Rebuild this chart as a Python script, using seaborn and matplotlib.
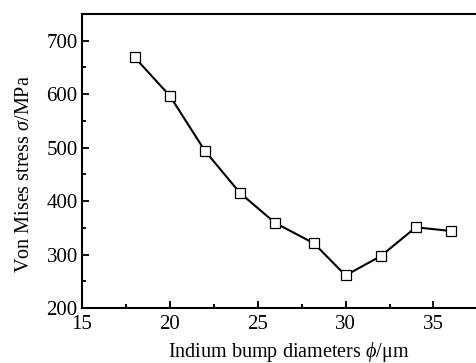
import matplotlib
matplotlib.use("Agg")
import matplotlib.pyplot as plt
import seaborn as sns
import pandas as pd
from matplotlib.ticker import MultipleLocator

diameters = [18, 20, 22, 24, 26, 28.2, 30, 32, 34, 36]
stress = [669, 597, 494, 415, 359, 321, 261, 297, 351, 344]

sns.set_theme(style="ticks")
plt.rcParams['font.family'] = ['Liberation Serif', 'DejaVu Serif']
plt.rcParams['mathtext.fontset'] = 'custom'
plt.rcParams['mathtext.rm'] = 'Liberation Serif'
plt.rcParams['mathtext.it'] = 'Liberation Serif:italic'

df = pd.DataFrame({"d": diameters, "s": stress})

fig = plt.figure(figsize=(4.76, 3.63), dpi=100)
ax = fig.add_axes([0.172, 0.1515, 0.831, 0.81])
sns.lineplot(data=df, x="d", y="s", ax=ax, color="black", linewidth=1.5,
             marker="s", markersize=7.5, markerfacecolor="white",
             markeredgecolor="black", markeredgewidth=0.9)

ax.set_xlim(15, 37.5)
ax.set_ylim(200, 750)
ax.set_xticks([15, 20, 25, 30, 35])
ax.set_yticks([200, 300, 400, 500, 600, 700])
ax.xaxis.set_minor_locator(MultipleLocator(2.5))
ax.yaxis.set_minor_locator(MultipleLocator(50))
ax.tick_params(which="both", direction="in", top=False, right=False,
               width=1.3, color="black", labelsize=15, labelcolor="black")
ax.tick_params(which="major", length=5)
ax.tick_params(axis="x", which="major", pad=5)
ax.tick_params(axis="y", which="major", pad=3)
ax.tick_params(which="minor", length=3)
for s in ax.spines.values():
    s.set_linewidth(1.5)
    s.set_color("black")
ax.set_xlabel(r"Indium bump diameters $\it{\phi}$/μm", fontsize=14.5, color="black", labelpad=4)
ax.set_ylabel(r"Von Mises stress $\it{\sigma}$/MPa", fontsize=14.5, color="black", labelpad=9)
ax.xaxis.label.set_x(0.522)
ax.yaxis.label.set_y(0.456)

fig.savefig("out.png", dpi=100)
